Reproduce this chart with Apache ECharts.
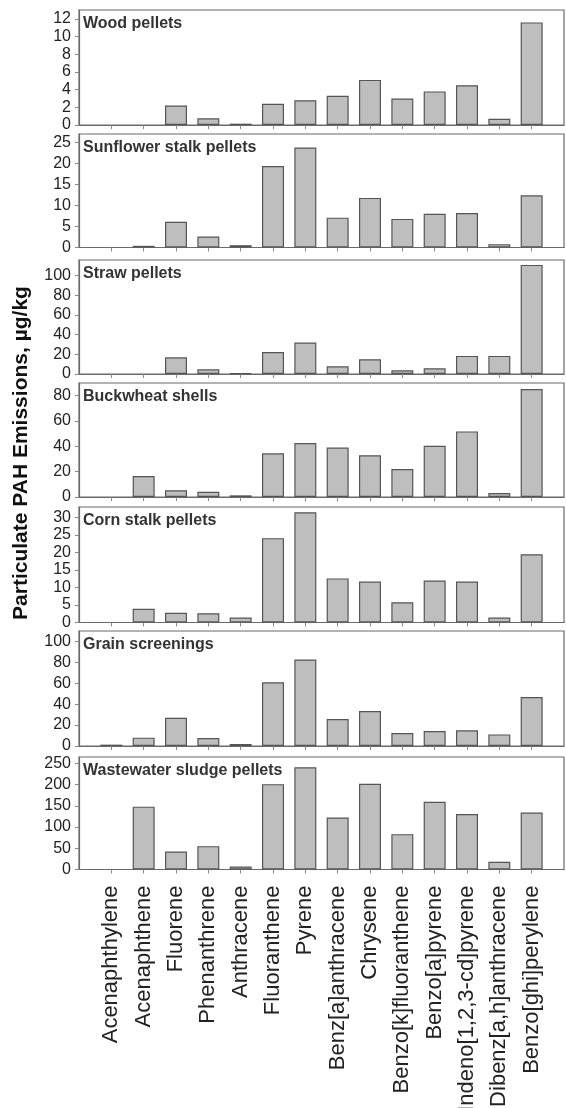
<!DOCTYPE html>
<html>
<head>
<meta charset="utf-8">
<script src="https://cdn.jsdelivr.net/npm/echarts@6/dist/echarts.min.js"></script>
<style>
html,body{margin:0;padding:0;background:#fff;}
#chart{width:566px;height:1108px;}
</style>
</head>
<body>
<div id="chart"></div>
<script>
const categories = ['Acenaphthylene','Acenaphthene','Fluorene','Phenanthrene','Anthracene','Fluoranthene','Pyrene','Benz[a]anthracene','Chrysene','Benzo[k]fluoranthene','Benzo[a]pyrene','Indeno[1,2,3-cd]pyrene','Dibenz[a,h]anthracene','Benzo[ghi]perylene'];
const panelNames = ['Wood pellets','Sunflower stalk pellets','Straw pellets','Buckwheat shells','Corn stalk pellets','Grain screenings','Wastewater sludge pellets'];

const wood       = [0, 0, 2.2, 0.75, 0.15, 2.4, 2.8, 3.3, 5.1, 3.0, 3.8, 4.5, 0.7, 11.6];
const sunflower  = [0, 0.4, 6.1, 2.6, 0.55, 19.4, 23.8, 7.1, 11.8, 6.8, 8.0, 8.2, 0.8, 12.4];
const straw      = [0, 0, 17, 4.8, 0.7, 22.4, 32, 7.8, 15, 3.7, 5.8, 18.4, 18.4, 111];
const buckwheat  = [0, 16.6, 5.3, 4.2, 1.3, 34.5, 42.6, 39, 32.9, 22.1, 40.5, 51.8, 3.2, 85.3];
const corn       = [0, 3.9, 2.8, 2.65, 1.4, 24.1, 31.5, 12.6, 11.7, 5.8, 12.0, 11.7, 1.4, 19.5];
const grain      = [1.3, 8, 27, 7.6, 1.9, 61, 82.8, 25.8, 33.4, 12.4, 14.3, 15, 11.1, 46.8];
const wastewater = [0, 148, 42.5, 55, 7, 201, 240.6, 122.6, 202, 83.3, 159.6, 130.5, 18, 134.4];

const woodTicks       = [0, 2, 4, 6, 8, 10, 12];
const sunflowerTicks  = [0, 5, 10, 15, 20, 25];
const strawTicks      = [0, 20, 40, 60, 80, 100];
const buckwheatTicks  = [0, 20, 40, 60, 80];
const cornTicks       = [0, 5, 10, 15, 20, 25, 30];
const grainTicks      = [0, 20, 40, 60, 80, 100];
const wastewaterTicks = [0, 50, 100, 150, 200, 250];

const yMaxes = [13, 27, 116, 90, 33, 110, 265];
const yTitle = 'Particulate PAH Emissions, \u00b5g/kg';

const seriesValues = [wood, sunflower, straw, buckwheat, corn, grain, wastewater];
const tickSets = [woodTicks, sunflowerTicks, strawTicks, buckwheatTicks, cornTicks, grainTicks, wastewaterTicks];

// layout (pixels)
const gridTops = [10, 134, 260, 383, 507, 631, 757];
const gridHeights = [115, 113.5, 114, 114, 115.5, 115, 112.5];
const FONT = 'Liberation Sans, Arial, Helvetica, sans-serif';

const xData = [''].concat(categories, ['']);
const grids = [], xAxes = [], yAxes = [], series = [], titles = [];
for (let i = 0; i < 7; i++) {
  grids.push({left: 79, right: 2, top: gridTops[i], height: gridHeights[i], containLabel: false, outerBoundsMode: 'none',
    show: true, borderColor: '#6a6a6a', borderWidth: 1.2, backgroundColor: 'transparent'});
  const last = i === 6;
  xAxes.push({
    type: 'category', gridIndex: i, data: xData, boundaryGap: false,
    axisLine: {lineStyle: {color: '#6a6a6a', width: 1.2}},
    axisTick: {length: 4, lineStyle: {color: '#888'}, interval: (idx) => idx > 0 && idx < xData.length - 1},
    axisLabel: last ? {show: true, interval: 0, rotate: 90, fontSize: 22, color: '#222', fontFamily: FONT, margin: 16} : {show: false}
  });
  yAxes.push({
    type: 'value', gridIndex: i, min: 0, max: yMaxes[i],
    splitLine: {show: false},
    axisLine: {show: true, lineStyle: {color: '#6a6a6a', width: 1.2}},
    axisTick: {show: true, length: 4, lineStyle: {color: '#888'}, customValues: tickSets[i]},
    axisLabel: {customValues: tickSets[i], fontSize: 16, color: '#222', fontFamily: FONT, margin: 8}
  });
  series.push({
    type: 'bar', xAxisIndex: i, yAxisIndex: i, barWidth: 22,
    data: ['-'].concat(seriesValues[i].map(v => v === 0 ? '-' : v), ['-']),
    itemStyle: {color: '#bebebe', borderColor: '#555', borderWidth: 1.2},
    silent: true, animation: false
  });
  titles.push({text: panelNames[i], left: 83, top: gridTops[i] + 6, padding: 0,
    textStyle: {fontSize: 16, fontWeight: 'bold', color: '#333', fontFamily: FONT}});
}

const chart = echarts.init(document.getElementById('chart'), null, {renderer: 'canvas'});
chart.setOption({
  animation: false,
  backgroundColor: '#fff',
  title: titles,
  grid: grids, xAxis: xAxes, yAxis: yAxes, series: series,
  graphic: [{
    type: 'text', x: 21, y: 453, rotation: Math.PI / 2,
    style: {text: yTitle, textAlign: 'center', textVerticalAlign: 'middle', fill: '#111', font: 'bold 21px ' + FONT}
  }]
});
</script>
</body>
</html>
